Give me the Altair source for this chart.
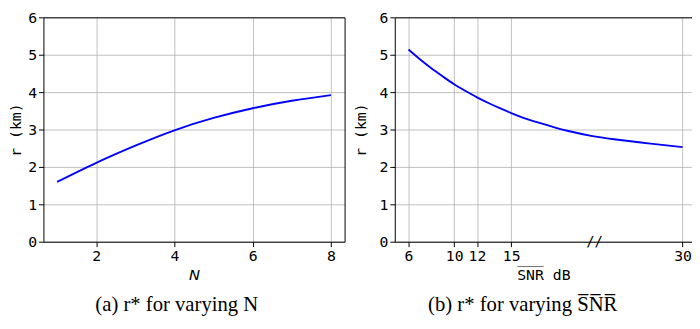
import altair as alt
import pandas as pd

# ---- data ----
n_values = [1, 2, 3, 4, 5, 6, 7, 8]
r_vs_n = [1.60, 2.11, 2.57, 2.98, 3.31, 3.57, 3.77, 3.92]

snr_values = [6, 7, 8, 9, 10, 11, 12, 13, 14, 15, 16, 17, 18, 19, 20, 22, 24, 27, 30]
r_vs_snr = [5.14, 4.88, 4.64, 4.42, 4.21, 4.03, 3.86, 3.71, 3.57, 3.44, 3.32,
            3.22, 3.13, 3.04, 2.96, 2.83, 2.74, 2.63, 2.53]

n_ticks = [2, 4, 6, 8]
snr_ticks = [6, 10, 12, 15, 30]
r_ticks = [0, 1, 2, 3, 4, 5, 6]
snr_break = [22.3]
break_label = ["//"]

df_n = pd.DataFrame({"N": n_values, "r": r_vs_n})
df_snr = pd.DataFrame({"SNR": snr_values, "r": r_vs_snr})
df_break = pd.DataFrame({"SNR": snr_break, "r": [0], "label": break_label})

BLUE = "#0000ff"
MONO = "DejaVu Sans Mono"

y_scale = alt.Scale(domain=[0, 6], nice=False, zero=True)
n_scale = alt.Scale(domain=[0.65, 8.35], nice=False, zero=False)
snr_scale = alt.Scale(domain=[4.8, 30.83], nice=False, zero=False)


def caption(text):
    return alt.TitleParams(text=text, orient="bottom", anchor="middle", frame="bounds",
                           font="Liberation Serif", fontSize=21, fontWeight="normal",
                           color="black", offset=12)


def y_axis(pad):
    return alt.Axis(values=r_ticks, title="r  (km)", titlePadding=pad)


frame_x = alt.Axis(orient="top", labels=False, ticks=False, grid=False, title=None,
                   domainColor="black", domainWidth=1)
frame_y = alt.Axis(orient="right", labels=False, ticks=False, grid=False, title=None,
                   domainColor="black", domainWidth=1)

# ---- left panel ----
left_line = alt.Chart(df_n).mark_line(color=BLUE, strokeWidth=1.9, interpolate="natural").encode(
    x=alt.X("N:Q", scale=n_scale,
            axis=alt.Axis(values=n_ticks, title="N", titleFont="DejaVu Sans",
                          titleFontStyle="italic")),
    y=alt.Y("r:Q", scale=y_scale, axis=y_axis(4)),
)
left_frame = alt.Chart(df_n).mark_line(opacity=0).encode(
    x=alt.X("N:Q", scale=n_scale, axis=frame_x),
    y=alt.Y("r:Q", scale=y_scale, axis=frame_y),
)
left = alt.layer(left_line, left_frame).resolve_axis(x="independent", y="independent").properties(
    width=306, height=228, title=caption("(a) r* for varying N"))

# ---- right panel ----
right_line = alt.Chart(df_snr).mark_line(color=BLUE, strokeWidth=1.9, interpolate="natural").encode(
    x=alt.X("SNR:Q", scale=snr_scale,
            axis=alt.Axis(values=snr_ticks, title="S\u0305N\u0305R\u0305  dB")),
    y=alt.Y("r:Q", scale=y_scale, axis=y_axis(11)),
)
right_break = alt.Chart(df_break).mark_text(font=MONO, fontSize=14, color="black",
                                             align="center", baseline="middle").encode(
    x=alt.X("SNR:Q", scale=snr_scale, axis=frame_x),
    y=alt.Y("r:Q", scale=y_scale, axis=y_axis(11)),
    text="label:N",
)
right = alt.layer(right_line, right_break).resolve_axis(x="independent").properties(
    width=302, height=228, title=caption("(b) r* for varying S\u0305N\u0305R\u0305"))

chart = alt.hconcat(left, right, spacing=8).properties(padding=0).configure_view(
    stroke=None
).configure_axis(
    labelFont=MONO, labelFontSize=15, labelColor="black", labelFlush=False,
    labelOverlap=False, labelPadding=2,
    tickSize=5, tickColor="black", tickWidth=1,
    domainColor="black", domainWidth=1,
    grid=True, gridColor="#b0b0b0", gridWidth=0.8,
    titleFont=MONO, titleFontSize=15, titleFontWeight="normal", titleColor="black",
    titlePadding=4,
)

chart.save("out.html", embed_options={"renderer": "svg", "actions": False})
